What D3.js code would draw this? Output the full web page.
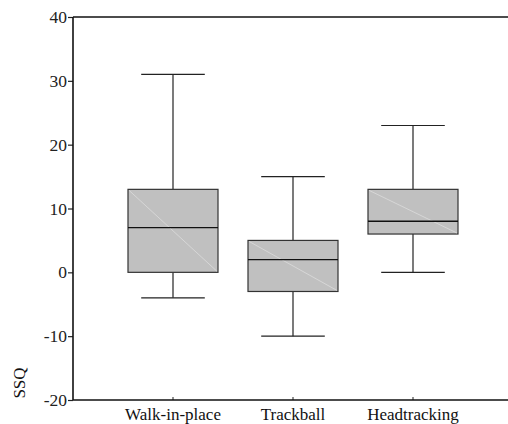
<!DOCTYPE html>
<html>
<head>
<meta charset="utf-8">
<script src="https://cdn.jsdelivr.net/npm/d3@7"></script>
<style>
  body { margin: 0; background: #fff; }
  svg text { font-family: "Liberation Serif", "Times New Roman", serif; }
</style>
</head>
<body>
<svg id="canvas" width="508" height="424"></svg>
<script>
let categories = ['Walk-in-place', 'Trackball', 'Headtracking']
let mins = [-4, -10, 0]
let q1s = [0, -3, 6]
let medians = [7, 2, 8]
let q3s = [13, 5, 13]
let maxs = [31, 15, 23]
let yTicks = [-20, -10, 0, 10, 20, 30, 40]

let svg = d3.select('#canvas')

let plotLeft = 73, plotRight = 508, plotTop = 17, plotBottom = 400

let xScale = d3.scaleBand()
    .domain(categories)
    .range([113, 473])
    .padding(0)

let yScale = d3.scaleLinear()
    .domain([-20, 40])
    .range([plotBottom, plotTop])

let boxes = categories.map((c, i) => {
    return {name: c, min: mins[i], q1: q1s[i], med: medians[i], q3: q3s[i], max: maxs[i]}
})

let boxW = xScale.bandwidth() * 0.75
let capW = xScale.bandwidth() * 0.53

let g = svg.selectAll('g.box')
    .data(boxes)
    .enter()
    .append('g')
    .attr('class', 'box')
    .attr('transform', (d) => 'translate(' + (xScale(d.name) + xScale.bandwidth() / 2) + ',0)')

// whiskers
g.append('line')
    .attr('x1', 0).attr('x2', 0)
    .attr('y1', (d) => yScale(d.max)).attr('y2', (d) => yScale(d.q3))
    .attr('stroke', '#222').attr('stroke-width', 1.2)
g.append('line')
    .attr('x1', 0).attr('x2', 0)
    .attr('y1', (d) => yScale(d.q1)).attr('y2', (d) => yScale(d.min))
    .attr('stroke', '#222').attr('stroke-width', 1.2)
g.append('line')
    .attr('x1', -capW / 2).attr('x2', capW / 2)
    .attr('y1', (d) => yScale(d.max)).attr('y2', (d) => yScale(d.max))
    .attr('stroke', '#222').attr('stroke-width', 1.2)
g.append('line')
    .attr('x1', -capW / 2).attr('x2', capW / 2)
    .attr('y1', (d) => yScale(d.min)).attr('y2', (d) => yScale(d.min))
    .attr('stroke', '#222').attr('stroke-width', 1.2)

// box
g.append('rect')
    .attr('x', -boxW / 2)
    .attr('width', boxW)
    .attr('y', (d) => yScale(d.q3))
    .attr('height', (d) => yScale(d.q1) - yScale(d.q3))
    .attr('fill', '#c0c0c0')
    .attr('stroke', '#333')
    .attr('stroke-width', 1.2)

// faint diagonal
g.append('line')
    .attr('x1', -boxW / 2 + 1).attr('x2', boxW / 2 - 1)
    .attr('y1', (d) => yScale(d.q3) + 1).attr('y2', (d) => yScale(d.q1) - 1)
    .attr('stroke', '#dcdcdc').attr('stroke-width', 0.8)

// median
g.append('line')
    .attr('x1', -boxW / 2).attr('x2', boxW / 2)
    .attr('y1', (d) => yScale(d.med)).attr('y2', (d) => yScale(d.med))
    .attr('stroke', '#111').attr('stroke-width', 1.3)

// y axis
let yAxis = d3.axisLeft(yScale)
    .tickValues(yTicks)
    .tickFormat((d) => String(d))
    .tickSize(5)
    .tickPadding(1)
let yg = svg.append('g')
    .attr('transform', 'translate(' + plotLeft + ',0)')
    .call(yAxis)
yg.select('.domain').remove()
yg.selectAll('.tick line').attr('stroke', '#222').attr('stroke-width', 1.2)
yg.selectAll('.tick text')
    .attr('font-size', 17.5)
    .attr('fill', '#222')
    .style('font-family', '"Liberation Serif", serif')

svg.append('line')
    .attr('x1', plotLeft).attr('x2', plotLeft)
    .attr('y1', plotTop).attr('y2', plotBottom)
    .attr('stroke', '#111').attr('stroke-width', 1.6)

// top frame line
svg.append('line')
    .attr('x1', plotLeft).attr('x2', plotRight)
    .attr('y1', plotTop).attr('y2', plotTop)
    .attr('stroke', '#111').attr('stroke-width', 1.6)

// x axis
let xAxis = d3.axisBottom(xScale)
    .tickSize(-3)
    .tickPadding(8)
let xg = svg.append('g')
    .attr('transform', 'translate(0,' + plotBottom + ')')
    .call(xAxis)
xg.select('.domain').remove()
xg.selectAll('.tick line').attr('stroke', '#222')
xg.selectAll('.tick text')
    .attr('font-size', 17)
    .attr('fill', '#111')
    .style('font-family', '"Liberation Serif", serif')

svg.append('line')
    .attr('x1', plotLeft).attr('x2', plotRight)
    .attr('y1', plotBottom).attr('y2', plotBottom)
    .attr('stroke', '#111').attr('stroke-width', 1.6)

// y label
svg.append('text')
    .attr('transform', 'translate(25,383) rotate(-90)')
    .attr('text-anchor', 'middle')
    .attr('font-size', 17)
    .attr('fill', '#111')
    .text('SSQ')
</script>
</body>
</html>
